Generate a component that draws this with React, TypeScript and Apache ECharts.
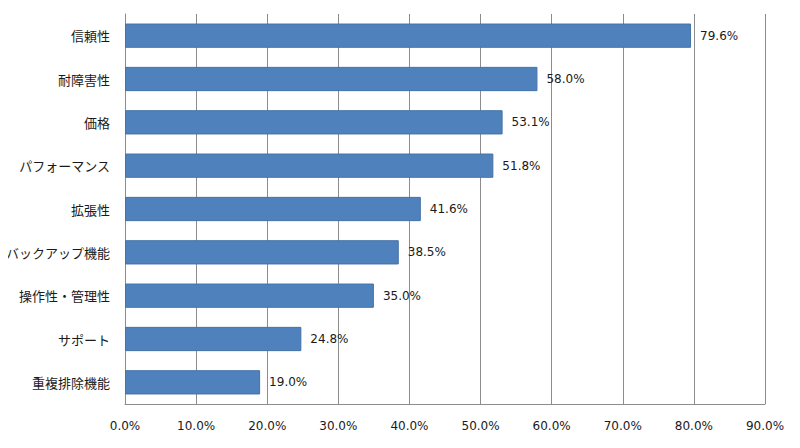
import React, { useEffect, useRef } from 'react';
import * as echarts from 'echarts';

// 上から順に表示される項目
const categories = [
  '信頼性',
  '耐障害性',
  '価格',
  'パフォーマンス',
  '拡張性',
  'バックアップ機能',
  '操作性・管理性',
  'サポート',
  '重複排除機能',
];

// 割合 (%)
const values = [79.6, 58.0, 53.1, 51.8, 41.6, 38.5, 35.0, 24.8, 19.0];

const App: React.FC = () => {
  const chartRef = useRef<HTMLDivElement>(null);

  useEffect(() => {
    if (!chartRef.current) return;
    const chart = echarts.init(chartRef.current, undefined, { renderer: 'svg' });

    const option: echarts.EChartsOption = {
      animation: false,
      backgroundColor: '#ffffff',
      grid: {
        left: 125,
        right: 35,
        top: 14,
        bottom: 44,
      },
      xAxis: {
        type: 'value',
        min: 0,
        max: 90,
        interval: 10,
        axisLine: { show: true, lineStyle: { color: '#8c8c8c' } },
        axisTick: { show: false },
        axisLabel: {
          color: '#1a1a1a',
          fontFamily: 'DejaVu Sans',
          fontSize: 12,
          margin: 16,
          formatter: (v: number) => `${v.toFixed(1)}%`,
        },
        splitLine: { show: true, lineStyle: { color: '#8c8c8c', width: 1 } },
      },
      yAxis: {
        type: 'category',
        data: categories,
        inverse: true,
        axisLine: { show: true, lineStyle: { color: '#8c8c8c' } },
        axisTick: { show: false },
        axisLabel: {
          color: '#1a1a1a',
          fontFamily: 'Noto Sans CJK JP',
          fontSize: 13,
          margin: 15,
        },
        splitLine: { show: false },
      },
      series: [
        {
          type: 'bar',
          data: values,
          barWidth: '56%',
          itemStyle: {
            color: '#4f81bd',
            borderColor: '#4473a8',
            borderWidth: 1,
          },
          label: {
            show: true,
            position: 'right',
            distance: 9,
            color: '#1a1a1a',
            fontFamily: 'DejaVu Sans',
            fontSize: 12,
            formatter: (p: any) => `${Number(p.value).toFixed(1)}%`,
          },
        },
      ],
    };

    chart.setOption(option);

    return () => {
      chart.dispose();
    };
  }, []);

  return <div ref={chartRef} style={{ width: 800, height: 448, margin: -8 }} />;
};

export default App;
